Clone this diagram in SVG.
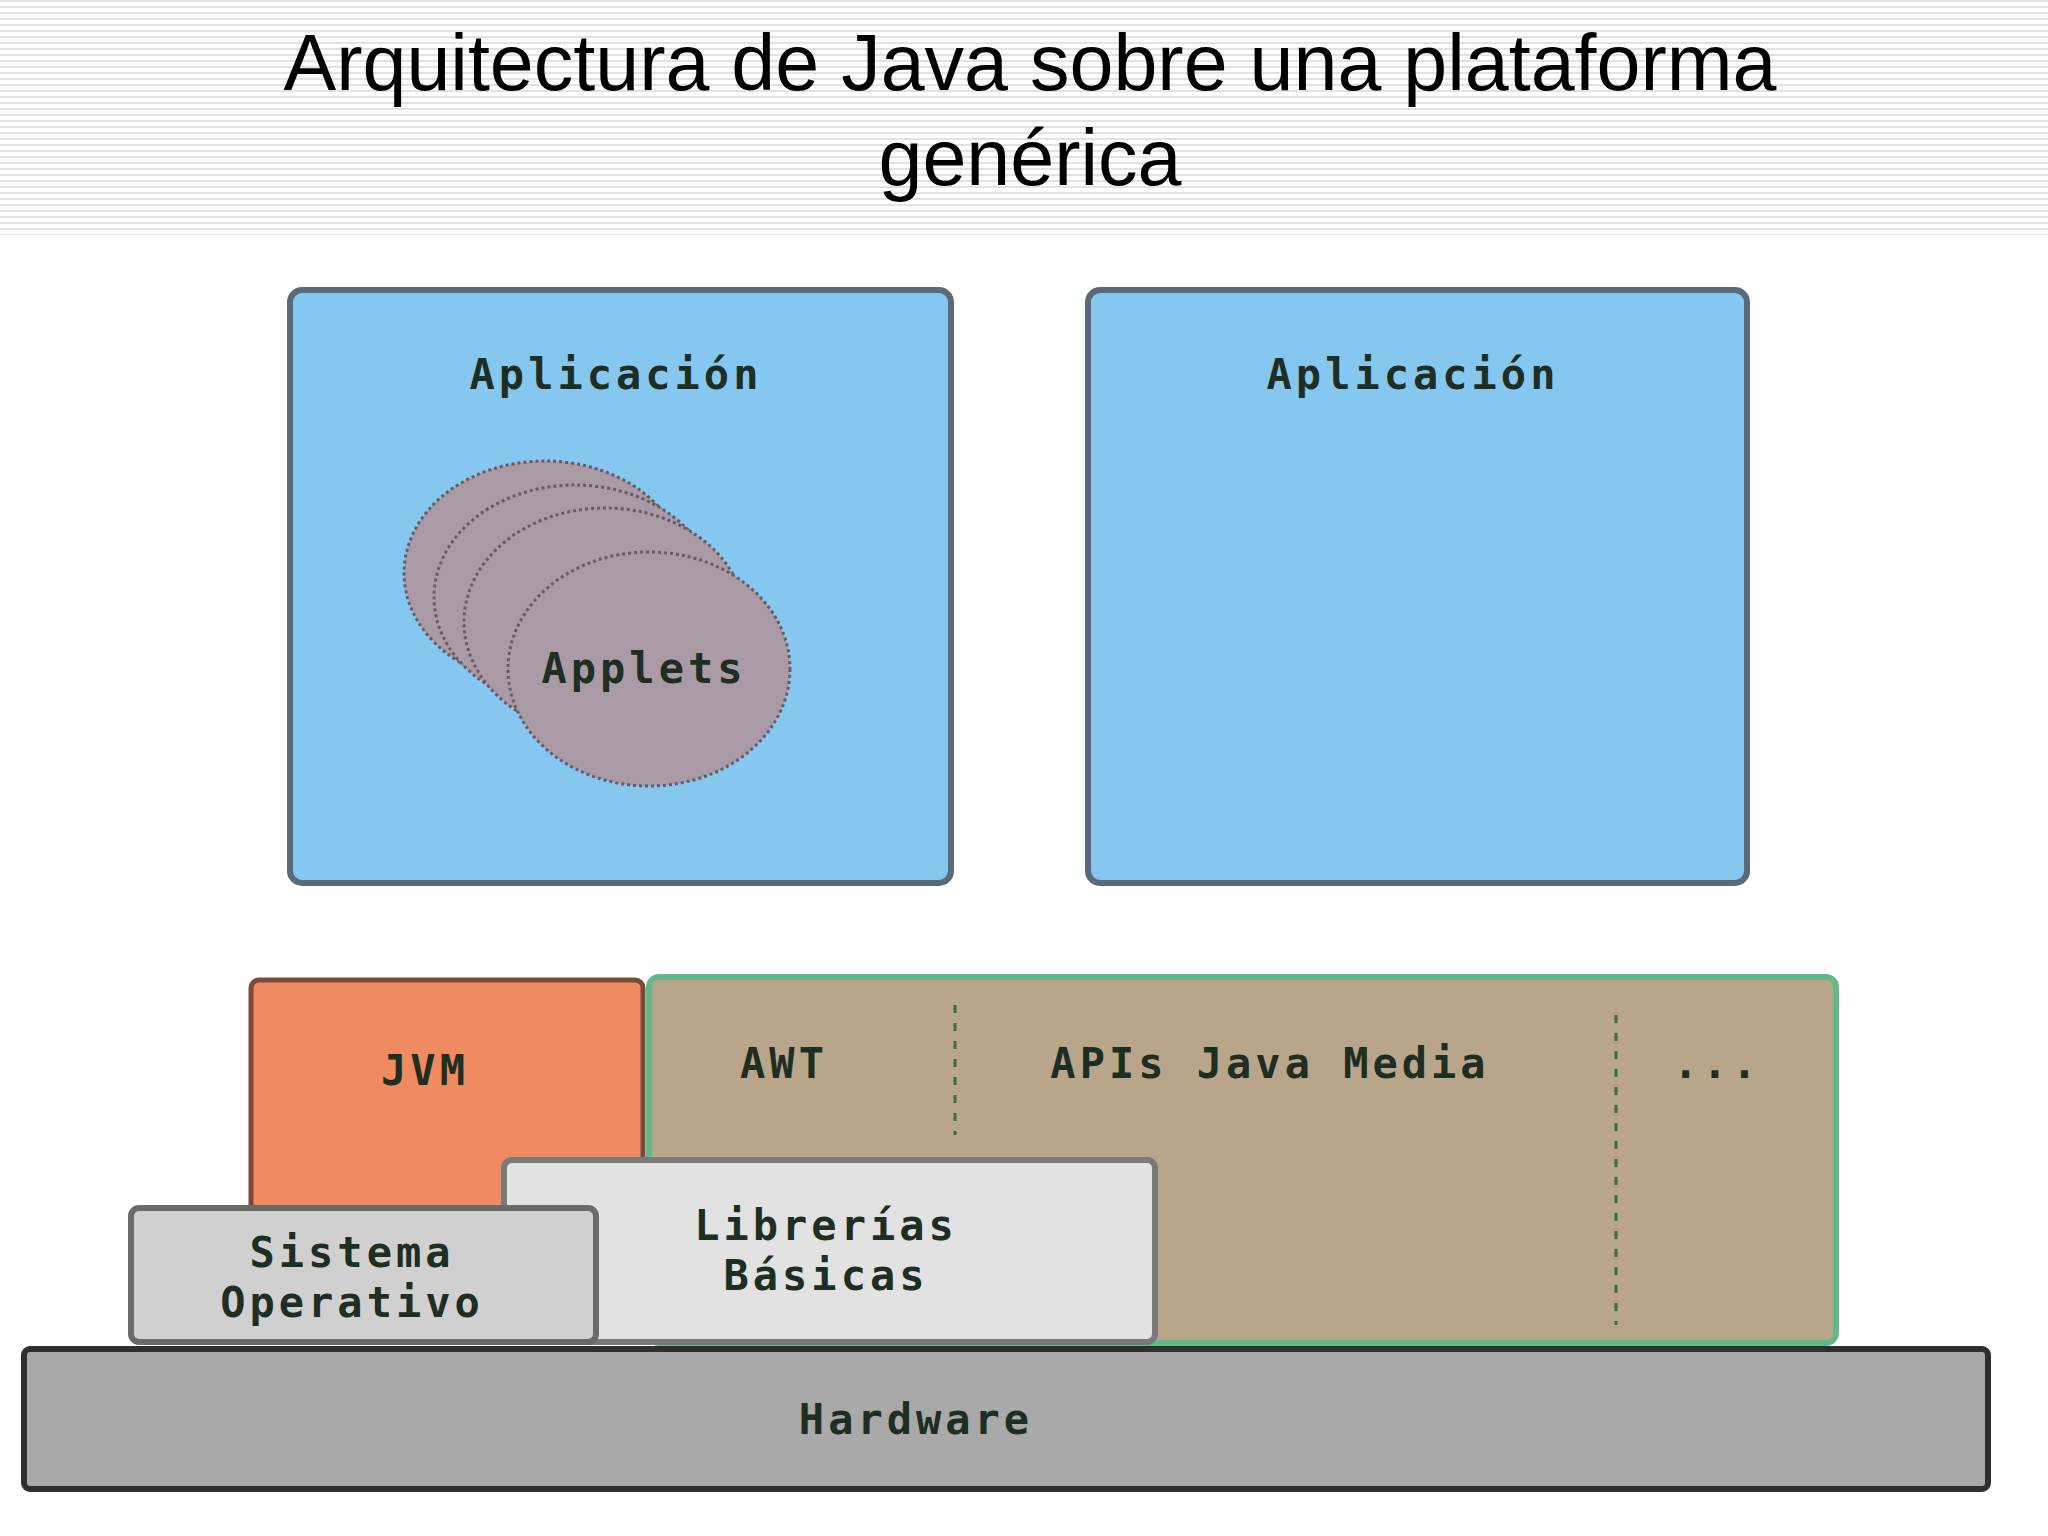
<svg xmlns="http://www.w3.org/2000/svg" width="2048" height="1536" viewBox="0 0 2048 1536">
<defs>
<pattern id="stripes" width="8" height="6" patternUnits="userSpaceOnUse"><rect width="8" height="6" fill="#fff"/><rect width="8" height="2" fill="#e2e2e2"/></pattern>
<style>
.t{font-family:"DejaVu Sans Mono","Liberation Mono",monospace;font-size:42px;font-weight:bold;fill:#1e2e22;text-anchor:middle;letter-spacing:4px}
.title{font-family:"Liberation Sans",Arial,sans-serif;font-size:79px;fill:#000;text-anchor:middle}
.app{fill:#86c7ef;stroke:#5a6a78;stroke-width:6}
.ap{fill:#a99aa6;stroke:#6a5a66;stroke-width:3;stroke-dasharray:3 3}
</style>
</defs>
<rect width="2048" height="1536" fill="#fff"/>
<rect width="2048" height="235" fill="url(#stripes)"/>
<text class="title" x="1030" y="90">Arquitectura de Java sobre una plataforma</text>
<text class="title" x="1030" y="185">genérica</text>
<g id="app1"><rect class="app" x="290" y="290" width="661" height="593" rx="12"/><text class="t" x="616" y="389">Aplicación</text></g>
<g id="app2"><rect class="app" x="1088" y="290" width="659" height="593" rx="12"/><text class="t" x="1413" y="389">Aplicación</text></g>
<g id="applets">
<ellipse class="ap" cx="545" cy="573" rx="141" ry="112"/>
<ellipse class="ap" cx="575" cy="597" rx="141" ry="112"/>
<ellipse class="ap" cx="605" cy="622" rx="141" ry="114"/>
<ellipse class="ap" cx="649" cy="669" rx="141" ry="117"/>
<text class="t" x="644" y="683">Applets</text>
</g>
<g id="jvm"><rect x="251" y="980" width="392" height="240" rx="8" fill="#f08a60" stroke="#7a4a3a" stroke-width="5"/><text class="t" x="425" y="1085">JVM</text></g>
<g id="apis"><rect x="649" y="977" width="1187" height="366" rx="10" fill="#b9a68a" stroke="#62b98a" stroke-width="6"/>
<text class="t" x="784" y="1078">AWT</text><text class="t" x="1270" y="1078">APIs Java Media</text><text class="t" x="1717" y="1078">...</text></g>
<g id="libs"><rect x="504" y="1160" width="651" height="182" rx="8" fill="#e2e2e2" stroke="#7a7a7a" stroke-width="6"/><text class="t" x="826" y="1240">Librerías</text><text class="t" x="826" y="1290">Básicas</text></g>
<g id="so"><rect x="131" y="1208" width="465" height="134" rx="8" fill="#d0d0d0" stroke="#6a6a6a" stroke-width="6"/><text class="t" x="352" y="1267">Sistema</text><text class="t" x="352" y="1317">Operativo</text></g>
<g id="hw"><rect x="24" y="1349" width="1964" height="140" rx="6" fill="#a9a9a9" stroke="#2f2f2f" stroke-width="6"/><text class="t" x="916" y="1434">Hardware</text></g>
<g id="connectors" stroke="#3a6a4a" stroke-width="3" stroke-dasharray="8 10">
<line x1="955" y1="1005" x2="955" y2="1135"/><line x1="1616" y1="1015" x2="1616" y2="1325"/>
</g>
</svg>
